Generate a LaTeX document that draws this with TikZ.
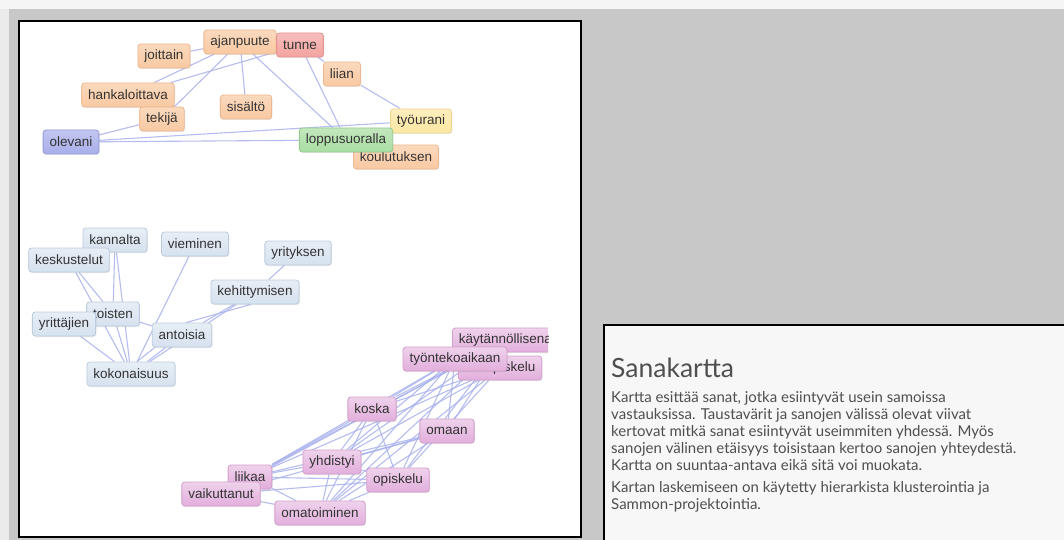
\documentclass[tikz,border=0pt]{standalone}
\usepackage{fontspec}
\setmainfont{Liberation Sans}
\newfontfamily\latofont{Lato}
\usetikzlibrary{shadows}
\pgfdeclarelayer{panel}
\pgfdeclarelayer{edges}
\pgfsetlayers{panel,edges,main}
\definecolor{bggrey}{HTML}{C8C8C8}
\definecolor{edgecol}{HTML}{A9B2EE}
\definecolor{txtcol}{HTML}{333333}
\definecolor{orfill}{HTML}{F9C9A2}
\definecolor{ordraw}{HTML}{EDB78F}
\definecolor{redfill}{HTML}{F3A3A0}
\definecolor{reddraw}{HTML}{E49290}
\definecolor{yelfill}{HTML}{FBE7A2}
\definecolor{yeldraw}{HTML}{EED790}
\definecolor{grnfill}{HTML}{A9DDA2}
\definecolor{grndraw}{HTML}{95CC8E}
\definecolor{blufill}{HTML}{A8AEEA}
\definecolor{bludraw}{HTML}{959CDB}
\definecolor{lbfill}{HTML}{D6E2EF}
\definecolor{lbdraw}{HTML}{BCCCDE}
\definecolor{pkfill}{HTML}{E2AEDC}
\definecolor{pkdraw}{HTML}{D39ECC}
\definecolor{panelfill}{HTML}{F7F7F7}
\definecolor{paneltext}{HTML}{4F4F4F}
\begin{document}
\begin{tikzpicture}[x=1pt,y=-1pt,
  word/.style={rounded corners=3pt, minimum height=24pt, inner xsep=6.5pt, inner ysep=0pt,
    font=\fontsize{13.5}{16}\selectfont, text=txtcol, line width=0.8pt,
    drop shadow={opacity=0.18, shadow xshift=0.8pt, shadow yshift=-1pt}},
  orw/.style={word, draw=ordraw, top color=orfill!70!white, bottom color=orfill},
  redw/.style={word, draw=reddraw, top color=redfill!70!white, bottom color=redfill},
  yelw/.style={word, draw=yeldraw, top color=yelfill!70!white, bottom color=yelfill},
  grnw/.style={word, draw=grndraw, top color=grnfill!70!white, bottom color=grnfill},
  bluw/.style={word, draw=bludraw, top color=blufill!70!white, bottom color=blufill},
  lbw/.style={word, draw=lbdraw, top color=lbfill!60!white, bottom color=lbfill},
  pkw/.style={word, draw=pkdraw, top color=pkfill!55!white, bottom color=pkfill},
  link/.style={draw=edgecol, line width=1.1pt, opacity=0.85},
  frame/.style={draw=black, line width=2pt},
  paratext/.style={anchor=north west, inner sep=0pt, align=left, text=paneltext,
    font=\latofont\fontsize{15}{17}\selectfont}
]
\useasboundingbox (0,0) rectangle (1064,540);
\begin{pgfonlayer}{panel}
  \fill[bggrey] (0,0) rectangle (1064,540);
  \fill[white!96!black] (0,0) rectangle (1064,9);
  \fill[white!92!black] (0,9) rectangle (9,540);
  \filldraw[fill=white, frame] (19,21) rectangle (581,537);
  \filldraw[fill=panelfill, frame] (604,325) rectangle (1070,548);
\end{pgfonlayer}

% orange cluster
\node[orw]  (joittain)  at (164,56)  {joittain};
\node[orw]  (ajanpuute) at (240,42)  {ajanpuute};
\node[redw] (tunne)     at (300,45)  {tunne};
\node[orw]  (liian)     at (342,74)  {liian};
\node[orw]  (hankal)    at (128,95)  {hankaloittava};
\node[orw]  (tekija)    at (162,119) {tekijä};
\node[orw]  (sisalto)   at (246,107) {sisältö};
\node[bluw] (olevani)   at (71,142)  {olevani};
\node[yelw] (tyourani)  at (421,121) {työurani};
\node[orw]  (koulut)    at (396,157) {koulutuksen};
\node[grnw] (loppu)     at (346,140) {loppusuoralla};

% light blue cluster
\node[lbw] (kannalta)  at (115,240) {kannalta};
\node[lbw] (vieminen)  at (195,244) {vieminen};
\node[lbw] (keskust)   at (69,260)  {keskustelut};
\node[lbw] (yrityksen) at (298,253) {yrityksen};
\node[lbw] (kehitt)    at (255,292) {kehittymisen};
\node[lbw] (toisten)   at (113,314) {toisten};
\node[lbw] (yrittajien) at (64,324) {yrittäjien};
\node[lbw] (antoisia)  at (182,335) {antoisia};
\node[lbw] (kokon)     at (131,374) {kokonaisuus};

% pink cluster
\begin{scope}
\clip (19,21) rectangle (548,537);
\node[pkw, anchor=west] (kayt) at (452,340) {käytännöllisena};
\end{scope}
\node[pkw] (lahiop)  at (500,368) {lähiopiskelu};
\node[pkw] (tyonte)  at (455,359) {työntekoaikaan};
\node[pkw] (koska)   at (372,409) {koska};
\node[pkw] (omaan)   at (447,431) {omaan};
\node[pkw] (yhdist)  at (332,462) {yhdistyi};
\node[pkw] (opiskelu) at (398,480) {opiskelu};
\node[pkw] (liikaa)  at (250,477) {liikaa};
\node[pkw] (vaikutt) at (221,494) {vaikuttanut};
\node[pkw] (omatoim) at (320,513) {omatoiminen};

\begin{pgfonlayer}{edges}
  \foreach \a/\b in {joittain/ajanpuute, ajanpuute/hankal, ajanpuute/tekija, ajanpuute/sisalto,
    ajanpuute/loppu, tunne/hankal, tunne/liian, tunne/loppu, liian/tyourani, tekija/olevani,
    olevani/loppu, olevani/tyourani, loppu/tyourani}
    \draw[link] (\a) -- (\b);
  \foreach \a/\b in {kannalta/toisten, keskust/toisten, vieminen/kokon, yrityksen/kehitt,
    kehitt/antoisia, kehitt/kokon, toisten/antoisia, toisten/kokon, yrittajien/kokon,
    kannalta/kokon, keskust/kokon, antoisia/kokon}
    \draw[link] (\a) -- (\b);
  \draw[link] ([xshift=-4pt]kehitt.south) -- ([xshift=4pt]antoisia.north);
  \draw[link] ([xshift=3pt]antoisia.south west) -- ([xshift=6pt]kokon.north);
  \foreach \a/\b in {kayt/tyonte, kayt/lahiop, kayt/koska, kayt/omaan, kayt/yhdist, kayt/opiskelu,
    kayt/liikaa, kayt/omatoim, kayt/vaikutt,
    tyonte/koska, tyonte/omaan, tyonte/yhdist, tyonte/opiskelu, tyonte/liikaa, tyonte/omatoim,
    lahiop/koska, lahiop/yhdist, lahiop/opiskelu, lahiop/omatoim, lahiop/liikaa,
    koska/liikaa, koska/opiskelu, koska/omatoim, koska/yhdist,
    omaan/yhdist, omaan/liikaa, omaan/omatoim, omaan/vaikutt,
    yhdist/liikaa, yhdist/omatoim, yhdist/opiskelu,
    opiskelu/liikaa, opiskelu/vaikutt, opiskelu/omatoim,
    liikaa/omatoim, vaikutt/omatoim}
    \draw[link] (\a) -- (\b);
\end{pgfonlayer}

% text panel
\node[anchor=west, inner sep=0pt, text=paneltext, font=\latofont\fontsize{26.5}{30}\selectfont]
  (title) at (611,368) {Sanakartta};
\node[paratext] (para1) at (611,391)
  {Kartta esittää sanat, jotka esiintyvät usein samoissa\\
   vastauksissa. Taustavärit ja sanojen välissä olevat viivat\\
   kertovat mitkä sanat esiintyvät useimmiten yhdessä. Myös\\
   sanojen välinen etäisyys toisistaan kertoo sanojen yhteydestä.\\
   Kartta on suuntaa-antava eikä sitä voi muokata.};
\node[paratext] (para2) at (611,481)
  {Kartan laskemiseen on käytetty hierarkista klusterointia ja\\
   Sammon-projektointia.};
\end{tikzpicture}
\end{document}
